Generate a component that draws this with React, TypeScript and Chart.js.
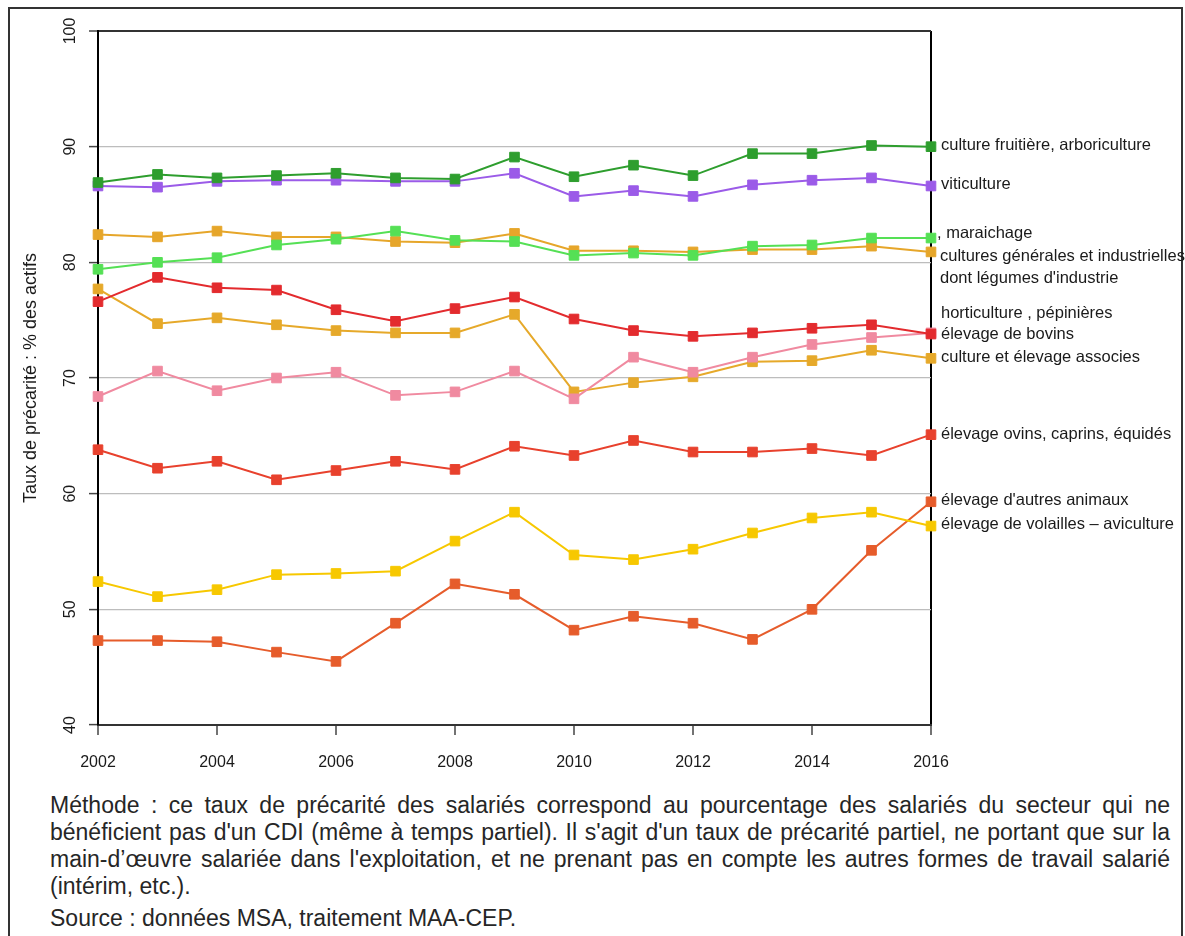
import React, { useEffect, useRef } from "react";
import { Chart, registerables } from "chart.js";

Chart.register(...registerables);

const FONT = '"Liberation Sans", Arial, Helvetica, sans-serif';

const years = [2002, 2003, 2004, 2005, 2006, 2007, 2008, 2009, 2010, 2011, 2012, 2013, 2014, 2015, 2016];

const cultureFruitiere = [86.9, 87.6, 87.3, 87.5, 87.7, 87.3, 87.2, 89.1, 87.4, 88.4, 87.5, 89.4, 89.4, 90.1, 90.0];
const viticulture = [86.6, 86.5, 87.0, 87.1, 87.1, 87.0, 87.0, 87.7, 85.7, 86.2, 85.7, 86.7, 87.1, 87.3, 86.6];
const maraichage = [79.4, 80.0, 80.4, 81.5, 82.0, 82.7, 81.9, 81.8, 80.6, 80.8, 80.6, 81.4, 81.5, 82.1, 82.1];
const culturesGenerales = [82.4, 82.2, 82.7, 82.2, 82.2, 81.8, 81.7, 82.5, 81.0, 81.0, 80.9, 81.1, 81.1, 81.4, 80.9];
const bovins = [76.6, 78.7, 77.8, 77.6, 75.9, 74.9, 76.0, 77.0, 75.1, 74.1, 73.6, 73.9, 74.3, 74.6, 73.8];
const horticulture = [68.4, 70.6, 68.9, 70.0, 70.5, 68.5, 68.8, 70.6, 68.2, 71.8, 70.5, 71.8, 72.9, 73.5, 73.9];
const cultureElevage = [77.7, 74.7, 75.2, 74.6, 74.1, 73.9, 73.9, 75.5, 68.8, 69.6, 70.1, 71.4, 71.5, 72.4, 71.7];
const ovins = [63.8, 62.2, 62.8, 61.2, 62.0, 62.8, 62.1, 64.1, 63.3, 64.6, 63.6, 63.6, 63.9, 63.3, 65.1];
const volailles = [52.4, 51.1, 51.7, 53.0, 53.1, 53.3, 55.9, 58.4, 54.7, 54.3, 55.2, 56.6, 57.9, 58.4, 57.2];
const autresAnimaux = [47.3, 47.3, 47.2, 46.3, 45.5, 48.8, 52.2, 51.3, 48.2, 49.4, 48.8, 47.4, 50.0, 55.1, 59.3];

const seriesNames = [
  "culture fruitière, arboriculture",
  "viticulture",
  "maraichage",
  "cultures générales et industrielles",
  "élevage de bovins",
  "horticulture , pépinières",
  "culture et élevage associes",
  "élevage ovins, caprins, équidés",
  "élevage de volailles – aviculture",
  "élevage d'autres animaux",
];
const seriesValues = [
  cultureFruitiere, viticulture, maraichage, culturesGenerales, bovins,
  horticulture, cultureElevage, ovins, volailles, autresAnimaux,
];
const seriesColors = [
  "#2E9E2E", "#9B5BE8", "#55E055", "#E6A62A", "#E32B2E",
  "#F08AA0", "#E6A92A", "#E8412D", "#F7C800", "#E65C2B",
];

const yTickValues = [40, 50, 60, 70, 80, 90, 100];
const yTitle = "Taux de précarité : % des actifs";

const endLabels = [
  "culture fruitière, arboriculture",
  "viticulture",
  ", maraichage",
  "cultures générales et industrielles",
  "dont légumes d'industrie",
  "horticulture , pépinières",
  "élevage de bovins",
  "culture et élevage associes",
  "élevage ovins, caprins, équidés",
  "élevage d'autres animaux",
  "élevage de volailles – aviculture",
];
const endLabelValues = [90.14, 86.77, 82.53, 80.5, 78.64, 75.62, 73.8, 71.81, 65.16, 59.45, 57.38];
const endLabelOffsets = [10, 10, 6, 9, 9, 10, 10, 10, 10, 10, 10];

const methodText =
  "Méthode : ce taux de précarité des salariés correspond au pourcentage des salariés du secteur qui ne bénéficient pas d'un CDI (même à temps partiel). Il s'agit d'un taux de précarité partiel, ne portant que sur la main-d’œuvre salariée dans l'exploitation, et ne prenant pas en compte les autres formes de travail salarié (intérim, etc.).";
const sourceText = "Source : données MSA, traitement MAA-CEP.";

const overlayPlugin = {
  id: "overlay",
  afterDraw(chart: any) {
    const ctx = chart.ctx;
    const ys = chart.scales.y;
    const ca = chart.chartArea;
    ctx.save();
    ctx.fillStyle = "#1a1a1a";
    ctx.textAlign = "center";
    ctx.textBaseline = "middle";
    ctx.font = `16px ${FONT}`;
    yTickValues.forEach((v) => {
      const py = ys.getPixelForValue(v);
      ctx.save();
      ctx.translate(71, py);
      ctx.rotate(-Math.PI / 2);
      ctx.fillText(String(v), 0, 0);
      ctx.restore();
    });
    ctx.font = `18px ${FONT}`;
    ctx.save();
    ctx.translate(31, (ca.top + ca.bottom) / 2);
    ctx.rotate(-Math.PI / 2);
    ctx.fillText(yTitle, 0, 0);
    ctx.restore();

    ctx.textAlign = "left";
    ctx.font = `16.5px ${FONT}`;
    endLabels.forEach((t, i) => {
      ctx.fillText(t, ca.right + endLabelOffsets[i], ys.getPixelForValue(endLabelValues[i]));
    });
    ctx.restore();
  },
};

export default function App() {
  const ref = useRef<HTMLCanvasElement | null>(null);

  useEffect(() => {
    if (!ref.current) return;
    Chart.defaults.font.family = FONT;
    const chart = new Chart(ref.current, {
      type: "line",
      data: {
        datasets: seriesValues.map((vals, i) => ({
          label: seriesNames[i],
          data: vals.map((v, j) => ({ x: years[j], y: v })),
          borderColor: seriesColors[i],
          backgroundColor: seriesColors[i],
          pointBackgroundColor: seriesColors[i],
          pointBorderColor: seriesColors[i],
          pointStyle: "rect",
          pointRadius: 6.8,
          pointBorderWidth: 1,
          borderWidth: 2,
          tension: 0,
          clip: false as any,
        })),
      },
      options: {
        animation: false,
        responsive: false,
        maintainAspectRatio: false,
        layout: { padding: { left: 58, right: 254, top: 31, bottom: 15 } },
        plugins: {
          legend: { display: false },
          tooltip: { enabled: false },
          title: { display: false },
        },
        scales: {
          x: {
            type: "linear",
            min: 2002,
            max: 2016,
            afterFit: (s: any) => {
              s.height = 50;
            },
            ticks: {
              stepSize: 2,
              color: "#1a1a1a",
              font: { size: 16, family: FONT },
              padding: 18,
              maxRotation: 0,
              callback: (v: any) => String(v),
            },
            grid: {
              color: (c: any) => (c.tick && c.tick.value === 2016 ? "#000" : "rgba(0,0,0,0)"),
              lineWidth: 2,
              tickColor: "#444",
              tickLength: 10,
              tickWidth: 1.5,
            },
            border: { display: true, color: "#333", width: 2 },
          },
          y: {
            min: 40,
            max: 100,
            afterFit: (s: any) => {
              s.width = 40;
            },
            ticks: { stepSize: 10, display: false },
            grid: {
              color: (c: any) =>
                c.tick && c.tick.value === 100 ? "#333" : c.tick && c.tick.value === 40 ? "rgba(0,0,0,0)" : "#BDBDBD",
              lineWidth: (c: any) => (c.tick && c.tick.value === 100 ? 2 : 1.2),
              tickColor: "#444",
              tickLength: 9,
              tickWidth: 1.5,
            },
            border: { display: true, color: "#000", width: 2 },
          },
        },
      },
      plugins: [overlayPlugin],
    } as any);
    return () => chart.destroy();
  }, []);

  return (
    <div
      style={{
        position: "absolute",
        left: 0,
        top: 0,
        width: 1185,
        height: 936,
        overflow: "hidden",
        background: "#fff",
        fontFamily: FONT,
      }}
    >
      <div
        style={{
          position: "absolute",
          left: 8,
          top: 7,
          width: 1171,
          height: 1000,
          border: "2px solid #333",
        }}
      />
      <canvas
        ref={ref}
        width={1185}
        height={790}
        style={{ position: "absolute", left: 0, top: 0, width: 1185, height: 790 }}
      />
      <div
        style={{
          position: "absolute",
          left: 50,
          top: 792,
          width: 1120,
          fontSize: 23,
          lineHeight: "27px",
          color: "#262626",
        }}
      >
        <div style={{ textAlign: "justify" }}>{methodText}</div>
        <div style={{ marginTop: 5 }}>{sourceText}</div>
      </div>
    </div>
  );
}
